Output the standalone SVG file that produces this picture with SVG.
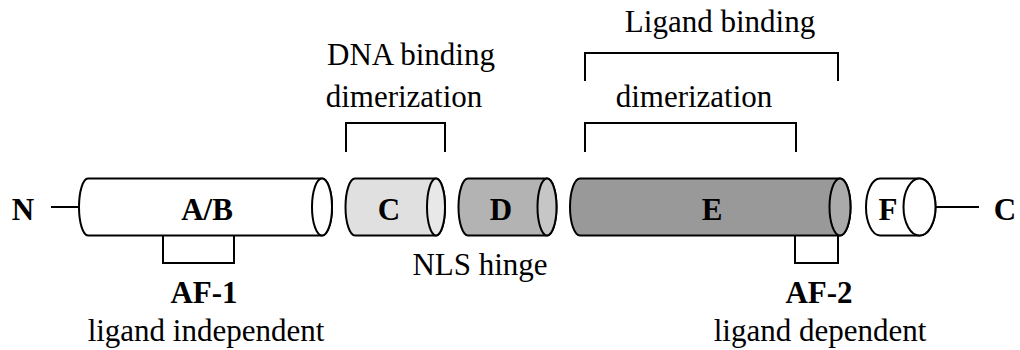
<svg xmlns="http://www.w3.org/2000/svg" width="1020" height="350" viewBox="0 0 1020 350">
<style>
text{font-family:"Liberation Serif","Times New Roman",serif;font-size:31px;fill:#000;text-anchor:middle}
.b{font-weight:bold}
.s{stroke:#000;stroke-width:2;fill:none}
.cyl{stroke:#000;stroke-width:2}
</style>
<rect width="1020" height="350" fill="#fff"/>
<g id="connectors">
<path class="s" d="M51,207 H79"/>
<path class="s" d="M936,207 H979"/>
<path class="s" d="M346,152 V123 H445 V152"/>
<path class="s" d="M585,152 V123 H796 V152"/>
<path class="s" d="M585,81 V53 H838 V81"/>
<path class="s" d="M163,236 V263 H234 V236"/>
<path class="s" d="M795,236 V263 H838 V236"/>
</g>
<g id="N"><text class="b" x="23" y="220">N</text></g>
<g id="AB">
<path class="cyl" fill="#fff" d="M88,178.5 H322 A10,28.5 0 0 1 322,235.5 H88 A9,28.5 0 0 1 88,178.5 Z"/>
<ellipse class="cyl" fill="#fff" cx="322" cy="207" rx="10" ry="28.5"/>
<text class="b" x="207" y="220">A/B</text>
</g>
<g id="Cdom">
<path class="cyl" fill="#e0e0e0" d="M355,178.5 H436 A9,28.5 0 0 1 436,235.5 H355 A9.5,28.5 0 0 1 355,178.5 Z"/>
<ellipse class="cyl" fill="#e8e8e8" cx="436" cy="207" rx="9" ry="28.5"/>
<text class="b" x="389" y="220">C</text>
</g>
<g id="Ddom">
<path class="cyl" fill="#b3b3b3" d="M468,178.5 H547 A9.5,28.5 0 0 1 547,235.5 H468 A9.5,28.5 0 0 1 468,178.5 Z"/>
<ellipse class="cyl" fill="#c6c6c6" cx="547" cy="207" rx="9.5" ry="28.5"/>
<text class="b" x="501" y="220">D</text>
</g>
<g id="Edom">
<path class="cyl" fill="#999" d="M580,178.5 H840 A10.5,28.5 0 0 1 840,235.5 H580 A10,28.5 0 0 1 580,178.5 Z"/>
<ellipse class="cyl" fill="#aaa" cx="840" cy="207" rx="10.5" ry="28.5"/>
<text class="b" x="712" y="220">E</text>
</g>
<g id="Fdom">
<path class="cyl" fill="#fff" d="M880,178.5 H919.5 A16,28.5 0 0 1 919.5,235.5 H880 A14,28.5 0 0 1 880,178.5 Z"/>
<ellipse class="cyl" fill="#fff" cx="919.5" cy="207" rx="16" ry="28.5"/>
<text class="b" x="888" y="220">F</text>
</g>
<g id="Cterm"><text class="b" x="1005" y="220">C</text></g>
<g id="labels">
<text x="411" y="65">DNA binding</text>
<text x="404" y="107">dimerization</text>
<text x="720" y="32">Ligand binding</text>
<text x="694" y="107">dimerization</text>
<text x="480" y="275">NLS hinge</text>
<text class="b" x="204" y="303">AF-1</text>
<text x="206" y="341">ligand independent</text>
<text class="b" x="819" y="303">AF-2</text>
<text x="820" y="341">ligand dependent</text>
</g>
</svg>
